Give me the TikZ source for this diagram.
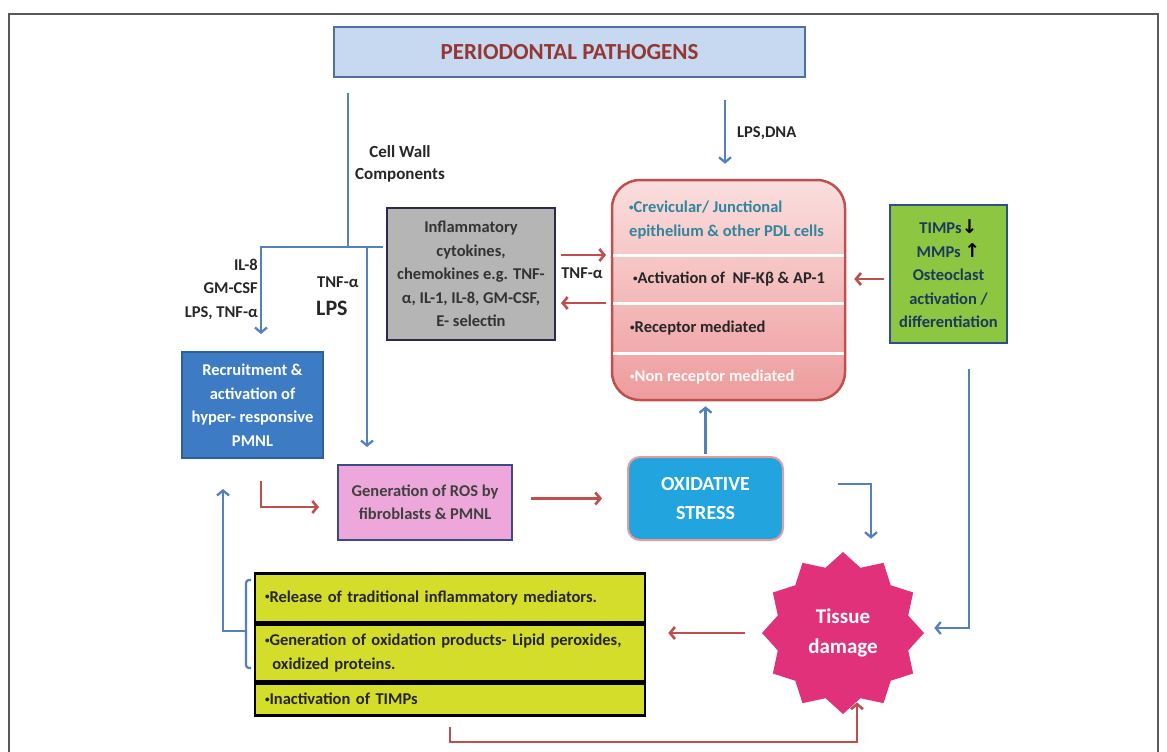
\documentclass[tikz,border=0pt]{standalone}
\usepackage{fontspec}
\setmainfont{Carlito}
\newfontfamily\arrowfont{DejaVu Sans}
\usepackage{graphicx}
\usepackage{tikz}
\usetikzlibrary{arrows.meta,positioning,shapes.geometric}
\definecolor{TitleFill}{HTML}{C6D9F0}
\definecolor{TitleLine}{HTML}{4F6F9E}
\definecolor{TitleText}{HTML}{953735}
\definecolor{FlowBlue}{HTML}{5580BE}
\definecolor{FlowRed}{HTML}{BE4F4D}
\definecolor{PmnlFill}{HTML}{3D7CC5}
\definecolor{PmnlLine}{HTML}{2E5F99}
\definecolor{CytoFill}{HTML}{B5B5B5}
\definecolor{CytoLine}{HTML}{2B2A4C}
\definecolor{CellTop}{HTML}{FBDEDE}
\definecolor{CellBot}{HTML}{EE9C9C}
\definecolor{CellLine}{HTML}{C0504D}
\definecolor{CellTeal}{HTML}{31859C}
\definecolor{MmpFill}{HTML}{8DC641}
\definecolor{MmpLine}{HTML}{2F4F8C}
\definecolor{MmpText}{HTML}{1B3A5C}
\definecolor{RosFill}{HTML}{EEA7DA}
\definecolor{RosLine}{HTML}{3C4A8A}
\definecolor{OxFill}{HTML}{22A5DE}
\definecolor{OxLine}{HTML}{E59C9C}
\definecolor{DamageFill}{HTML}{E1317A}
\definecolor{MediatorFill}{HTML}{D5DD2B}
\newcommand{\bodyfont}{\bfseries\fontsize{16.5}{23.5}\selectfont}
\newcommand{\bul}{\raisebox{0.3ex}{\scalebox{0.55}{•}}}
\newcommand{\dnarrow}{{\arrowfont\bfseries\fontsize{19}{20}\selectfont\color{black}↓}}
\newcommand{\uparr}{{\arrowfont\bfseries\fontsize{19}{20}\selectfont\color{black}↑}}

\begin{document}
\begin{tikzpicture}[x=1pt, y=-1pt, every node/.style={font=\bodyfont, inner sep=0pt, text=black!85}, box/.style={draw, line width=2pt, align=center}, barrow/.style={draw=FlowBlue, line width=2.3pt, -{Straight Barb[length=5pt,width=12pt]}}, rarrow/.style={draw=FlowRed, line width=2.6pt, -{Straight Barb[length=5pt,width=12pt]}}, bline/.style={draw=FlowBlue, line width=2.3pt}, item/.style={draw, line width=2.5pt, fill=MediatorFill, minimum width=390pt, text width=370pt, align=left, anchor=north}]
\useasboundingbox (0,0) rectangle (1167,752);
\draw[line width=2pt, black!65] (9,760) -- (9,14) -- (1158,14) -- (1158,760);

\node[box, draw=TitleLine, fill=TitleFill, text=TitleText, minimum width=471pt, minimum height=50pt, font=\bfseries\fontsize{23}{28}\selectfont] (title) at (569.5,52) {PERIODONTAL PATHOGENS};
\node[box, draw=PmnlLine, fill=PmnlFill, text=white, minimum width=141pt, minimum height=106pt] (pmnl) at (252.5,405) {Recruitment \&\\activation of\\hyper- responsive\\PMNL};
\node[box, draw=CytoLine, fill=CytoFill, text=black!80, minimum width=168pt, minimum height=132pt] (cyto) at (471,274) {Inflammatory\\cytokines,\\chemokines e.g. TNF-\\α, IL-1, IL-8, GM-CSF,\\E- selectin};
\node[draw=CellLine, line width=2.5pt, rounded corners=28pt, top color=CellTop, bottom color=CellBot, minimum width=233pt, minimum height=220pt] (cells) at (728.5,290) {};
\node[box, draw=MmpLine, fill=MmpFill, text=MmpText, minimum width=117pt, minimum height=138pt] (mmp) at (948.5,274) {TIMPs\dnarrow\\MMPs \uparr\\Osteoclast\\activation /\\differentiation};
\node[box, draw=RosLine, fill=RosFill, text=black!75, minimum width=174pt, minimum height=75pt] (ros) at (425,502.5) {Generation of ROS by\\fibroblasts \& PMNL};
\node[box, draw=OxLine, fill=OxFill, text=white, rounded corners=12pt, minimum width=155pt, minimum height=83pt, font=\bfseries\fontsize{20}{29}\selectfont] (ox) at (705.5,498.5) {OXIDATIVE\\STRESS};
\node[star, star points=12, star point ratio=1.2, fill=DamageFill, text=white, minimum size=162pt, align=center, font=\bfseries\fontsize{21}{30}\selectfont] (damage) at (843,633) {Tissue\\damage};

% mediators
\node[item, minimum height=49pt] (med1) at (450,572) {\bul Release of traditional inflammatory mediators.};
\node[item, minimum height=56pt, below=0pt of med1] (med2) {\bul Generation of oxidation products- Lipid peroxides,\\\hspace*{0.45em}oxidized proteins.};
\node[item, minimum height=32pt, below=0pt of med2] (med3) {\bul Inactivation of TIMPs};

% cell rows
\coordinate (d1w) at (613,255); \coordinate (d1e) at (844,255);
\coordinate (d2w) at (613,303); \coordinate (d2e) at (844,303);
\coordinate (d3w) at (613,353); \coordinate (d3e) at (844,353);
\draw[white, line width=3pt] (d1w) -- (d1e) (d2w) -- (d2e) (d3w) -- (d3e);
\node[anchor=west, align=left, text=CellTeal] (sec1) at (629,220) {\bul Crevicular/ Junctional\\epithelium \& other PDL cells};
\node[anchor=west] (sec2) at (633,279) {\bul Activation of\ \ NF-Kβ \& AP-1};
\node[anchor=west] (sec3) at (630,328) {\bul Receptor mediated};
\node[anchor=west, text=white!85!CellTop] (sec4) at (630,377) {\bul Non receptor mediated};

% labels
\node[align=center, font=\bfseries\fontsize{17}{22}\selectfont] (cwall) at (400,164) {Cell Wall\\Components};
\node[anchor=east, align=right] (pmnllbl) at (258,289) {IL-8\\GM-CSF\\LPS, TNF-α};
\node[anchor=west] (tnflbl) at (317,282) {TNF-α};
\node[anchor=west, font=\bfseries\fontsize{22}{26}\selectfont] (lpslbl) at (316,308) {LPS};
\node (tnfmid) at (582,273) {TNF-α};
\node[anchor=west] (dnalbl) at (737,133) {LPS,DNA};

% connectors
\coordinate (cwjoin) at (348,247);
\coordinate (splitL) at (261,247);
\coordinate (splitM) at (367,247);
\coordinate (splitR) at (383,247);
\coordinate (dna) at (725,100);
\draw[bline, shorten <=15pt] (title.south -| cwjoin) -- (cwjoin);
\draw[barrow, shorten >=17pt] (splitR) -- (splitL) -- (splitL |- pmnl.north);
\draw[barrow, shorten >=17pt] (splitM) -- (splitM |- ros.north);
\draw[barrow, shorten >=15pt] (dna) -- (dna |- cells.north);
\draw[rarrow, shorten <=5pt, shorten >=7pt] (cyto.east |- d1w) -- (d1w);
\draw[rarrow, shorten <=7pt, shorten >=5pt] (d2w) -- (cyto.east |- d2w);
\draw[rarrow, shorten <=5pt, shorten >=8pt] (mmp.west |- sec2) -- (cells.east |- sec2);
\draw[rarrow, shorten <=18pt, shorten >=25pt] (ros.east |- ox.west) -- (ox.west);
\draw[rarrow, shorten <=22pt, shorten >=18pt] ([xshift=8.5pt]pmnl.south) |- ([yshift=-4.5pt]ros.west);
\draw[barrow, shorten <=2pt, shorten >=5pt] (ox.north) -- (ox.north |- cells.south);

\coordinate (oxbend) at (871,484);
\draw[barrow, shorten <=54pt, shorten >=13pt] (ox.east |- oxbend) -- (oxbend) -- (oxbend |- damage.north);
\coordinate (mmpbend) at (969,628);
\draw[barrow, shorten <=25pt, shorten >=10pt] (mmp.south -| mmpbend) -- (mmpbend) -- (mmpbend -| damage.east);
\draw[rarrow, shorten <=17pt, shorten >=22pt] (damage.west) -- (damage.west -| med2.east);
\coordinate (medbend) at (857,742);
\draw[rarrow, shorten <=10pt, shorten >=4pt] (med3.south) |- (medbend) -- (medbend |- damage.inner point 7);

% bracket back to PMNL
\coordinate (bktop) at (251,580);
\coordinate (bkmid) at (246,631);
\coordinate (bkbot) at (251,668);
\draw[bline, rounded corners=3pt] (bktop) -| (bkmid) |- (bkbot);
\draw[barrow, shorten >=30pt] (bkmid) -| ([xshift=-29.5pt]pmnl.south);
\end{tikzpicture}
\end{document}
